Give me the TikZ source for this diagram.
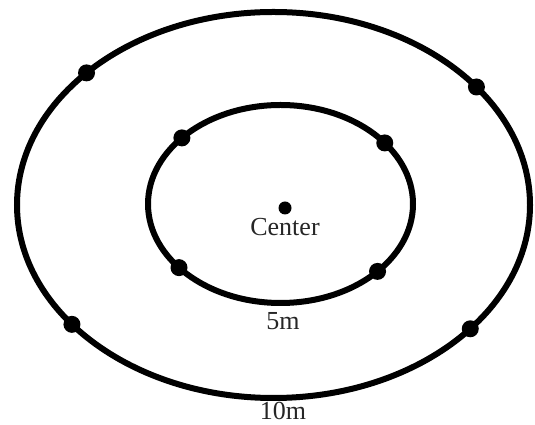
\documentclass[tikz,border=0pt]{standalone}
\usepackage{fontspec}
\setmainfont{Liberation Serif}
\usetikzlibrary{positioning,calc}

\begin{document}
\begin{tikzpicture}[x=1pt, y=1pt,
  ring/.style={draw, line width=6pt},
  spot/.style={circle, fill, inner sep=0pt, minimum size=17pt},
  lbl/.style={font=\fontsize{26}{28}\selectfont, text=black!85, inner sep=0pt}
]
  \useasboundingbox (0,0) rectangle (535,425);
  \coordinate (oc) at (273.5,220);
  \coordinate (ic) at (280.5,221);
  % the two rings
  \draw[ring] (oc) ellipse [x radius=256.5, y radius=193];
  \draw[ring] (ic) ellipse [x radius=132.5, y radius=99];
  % sample points, outer ring
  \node[spot] (o1) at ($(oc)+(136.8:256.5 and 193)$) {};
  \node[spot] (o2) at ($(oc)+(37.7:256.5 and 193)$)  {};
  \node[spot] (o3) at ($(oc)+(218.2:256.5 and 193)$) {};
  \node[spot] (o4) at ($(oc)+(320.1:256.5 and 193)$) {};
  % sample points, inner ring
  \node[spot] (i1) at ($(ic)+(138.1:132.5 and 99)$) {};
  \node[spot] (i2) at ($(ic)+(38.1:132.5 and 99)$)  {};
  \node[spot] (i3) at ($(ic)+(220:132.5 and 99)$)   {};
  \node[spot] (i4) at ($(ic)+(317.1:132.5 and 99)$) {};
  % centre and labels
  \node[spot, minimum size=13pt] (c) at (285,217) {};
  \node[lbl] (ct) at (285,198) {Center};
  \node[lbl] (r5) at (283,104) {5m};
  \node[lbl] (r10) at (283,14) {10m};
\end{tikzpicture}
\end{document}
